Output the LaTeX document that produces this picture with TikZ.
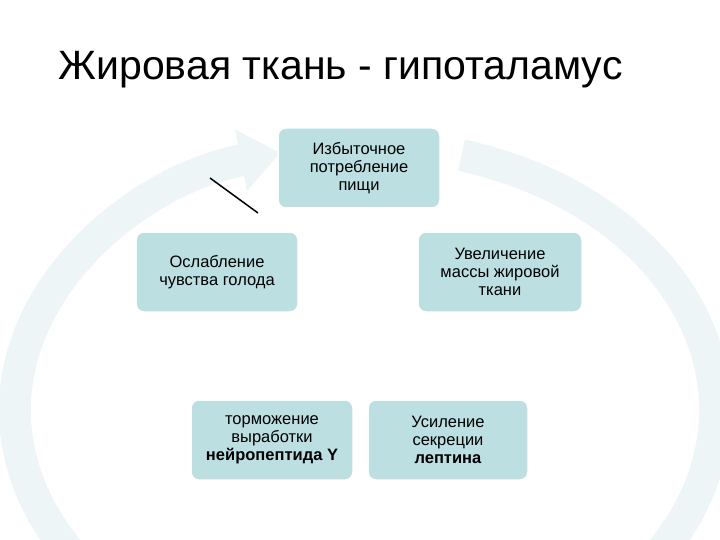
\documentclass[tikz,border=0pt]{standalone}
\usepackage{fontspec}
\setmainfont{Liberation Sans}
\usetikzlibrary{arrows.meta}
\definecolor{ring}{HTML}{EDF5F6}
\definecolor{boxc}{HTML}{BCDFE2}
\begin{document}
\begin{tikzpicture}[x=1pt,y=-1pt,
  bx/.style={draw=white,line width=1.5pt,fill=boxc,rounded corners=8pt,minimum width=162pt,minimum height=80pt,align=center,font=\fontsize{16.5}{18}\selectfont,inner sep=2pt}]
\useasboundingbox (0,0) rectangle (720,540);
\begin{scope}
\clip (0,0) rectangle (720,540);
\draw[ring,line width=32pt,-{Triangle[width=60pt,length=40pt]}] (365,410) ++(74:350 and -265) arc[start angle=74,end angle=-256,x radius=350,y radius=-265];
\end{scope}
\node[anchor=west] (title) at (55,70) {\fontsize{41}{44}\selectfont Жировая ткань - гипоталамус};
\node[bx] (a) at (359,168) {Избыточное\\потребление\\пищи};
\node[bx,minimum width=164pt] (b) at (500,272) {Увеличение\\массы жировой\\ткани};
\node[bx,minimum width=160pt] (c) at (448,440) {Усиление\\секреции\\\textbf{лептина}};
\node[bx] (d) at (272,440) {торможение\\выработки\\\textbf{нейропептида Y}};
\node[bx] (e) at (217,272) {Ослабление\\чувства голода};
\coordinate (l1) at (210,178);
\coordinate (l2) at (258,213);
\draw[line width=1.5pt] (l1) -- (l2);
\end{tikzpicture}
\end{document}
